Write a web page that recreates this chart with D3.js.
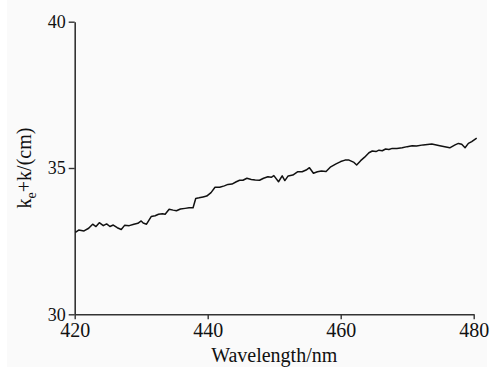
<!DOCTYPE html>
<html>
<head>
<meta charset="utf-8">
<script src="https://cdn.jsdelivr.net/npm/d3@7"></script>
<style>
  body { margin: 0; background: #ffffff; }
  svg { display: block; }
  text { font-family: "Liberation Serif", "Times New Roman", serif; fill: #111; }
</style>
</head>
<body>
<div id="chart"></div>
<script>
// wavelength (nm)
const wavelength = [
  420.1, 420.6, 421.4, 422.1, 422.7, 423.2, 423.7, 424.3, 424.8, 425.3,
  425.8, 426.4, 427.0, 427.5, 428.2, 428.9, 429.5, 430.0, 430.3, 430.8,
  431.5, 432.1, 432.6, 433.2, 433.6, 434.2, 434.8, 435.3, 435.9, 436.6,
  437.2, 437.8, 438.2, 438.7, 439.3, 439.85, 440.5, 441.1, 441.8, 442.5,
  443.05, 443.65, 444.3, 444.8, 445.3, 445.9, 446.55, 447.15, 447.8, 448.4,
  449.05, 449.55, 449.95, 450.65, 451.2, 451.6, 452.1, 452.8, 453.5, 454.2,
  454.8, 455.3, 455.9, 456.5, 457.1, 457.8, 458.5, 459.3, 460.0, 460.65,
  461.25, 462.0, 462.4, 463.0, 463.6, 464.25, 464.75, 465.3, 465.75, 466.25,
  466.75, 467.25, 467.75, 468.45, 469.25, 470.0, 470.75, 471.4, 472.4, 473.7,
  474.9, 476.4, 477.2, 477.7, 478.2, 478.7, 479.2, 479.7, 480.45
];
// ke + k values
const kValues = [
  32.80, 32.88, 32.85, 32.94, 33.08, 33.00, 33.13, 33.03, 33.09, 33.00,
  33.05, 32.96, 32.90, 33.04, 33.03, 33.08, 33.11, 33.19, 33.12, 33.08,
  33.34, 33.37, 33.42, 33.44, 33.42, 33.59, 33.56, 33.54, 33.60, 33.62,
  33.64, 33.64, 33.96, 33.98, 34.01, 34.04, 34.16, 34.34, 34.34, 34.39,
  34.44, 34.45, 34.53, 34.58, 34.58, 34.65, 34.61, 34.59, 34.58, 34.65,
  34.70, 34.68, 34.74, 34.53, 34.73, 34.57, 34.73, 34.76, 34.87, 34.87,
  34.93, 35.01, 34.82, 34.87, 34.90, 34.88, 35.04, 35.14, 35.22, 35.27,
  35.27, 35.19, 35.10, 35.25, 35.37, 35.52, 35.58, 35.56, 35.61, 35.59,
  35.65, 35.63, 35.67, 35.67, 35.69, 35.73, 35.76, 35.75, 35.79, 35.82,
  35.76, 35.69, 35.79, 35.84, 35.81, 35.69, 35.84, 35.90, 36.02
];
const xTicks = [420, 440, 460, 480];
const yTicks = [30, 35, 40];

const width = 493;
const height = 367;
const margin = { top: 21.7, right: 19.3, bottom: 52.7, left: 74.7 };

const svg = d3.select("#chart")
  .append("svg")
  .attr("width", width)
  .attr("height", height);

// light grey panel
svg.append("rect")
  .attr("x", 7).attr("y", 0)
  .attr("width", 480).attr("height", height)
  .attr("fill", "#fafafa");

const x = d3.scaleLinear()
  .domain([420, 480])
  .range([margin.left, width - margin.right]);
const y = d3.scaleLinear()
  .domain([30, 40])
  .range([height - margin.bottom, margin.top]);

//x axis
const xAxis = svg.append("g")
  .attr("transform", `translate(0,${y(30)})`)
  .call(d3.axisBottom(x).tickValues(xTicks).tickSize(5).tickPadding(4).tickSizeOuter(0));
xAxis.selectAll("text").style("font-size", "20px");

//y axis
const yAxis = svg.append("g")
  .attr("transform", `translate(${x(420)},0)`)
  .call(d3.axisLeft(y).tickValues(yTicks).tickSize(6).tickPadding(3).tickSizeOuter(0));
yAxis.selectAll("text").style("font-size", "18px");

[xAxis, yAxis].forEach((g) => {
  g.select(".domain").attr("stroke", "#333").attr("stroke-width", 1.6);
  g.selectAll(".tick line").attr("stroke", "#333").attr("stroke-width", 1.4);
  g.selectAll("text").attr("fill", "#111").style("font-family", "Liberation Serif, serif");
});

//data line
const points = wavelength.map((w, i) => ({ w: w, k: kValues[i] }));
const line = d3.line().x((d) => x(d.w)).y((d) => y(d.k));
svg.append("path")
  .datum(points)
  .attr("d", line)
  .attr("fill", "none")
  .attr("stroke", "#111")
  .attr("stroke-width", 1.5)
  .attr("stroke-linejoin", "round");

//axis titles
svg.append("text")
  .attr("x", (x(420) + x(480)) / 2)
  .attr("y", 362)
  .attr("text-anchor", "middle")
  .style("font-size", "20px")
  .text("Wavelength/nm");

const yTitle = svg.append("text")
  .attr("transform", `translate(31,${(y(30) + y(40)) / 2}) rotate(-90)`)
  .attr("text-anchor", "middle")
  .style("font-size", "20px");
yTitle.append("tspan").text("k");
yTitle.append("tspan").attr("dy", 5).style("font-size", "14px").text("e");
yTitle.append("tspan").attr("dy", -5).text("+k/(cm)");
</script>
</body>
</html>
